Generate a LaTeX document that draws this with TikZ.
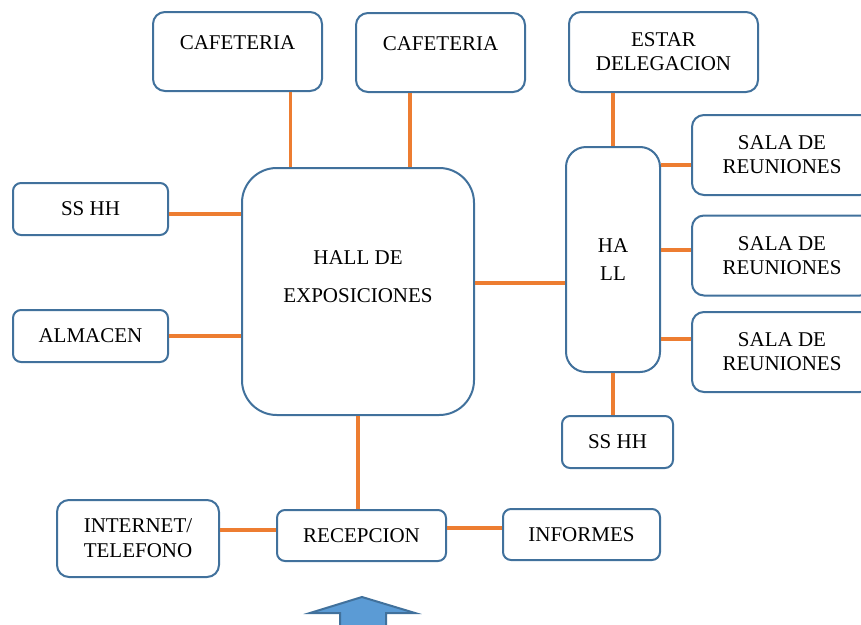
\documentclass[tikz,border=0pt]{standalone}
\usepackage{fontspec}
\setmainfont{Liberation Serif}
\usepackage{xcolor}
\usetikzlibrary{calc, positioning}
\definecolor{roomedge}{HTML}{41719C}
\definecolor{linkorange}{HTML}{ED7D31}
\definecolor{arrowblue}{HTML}{5B9BD5}

\begin{document}
\begin{tikzpicture}[
    x=0.75pt, y=-0.75pt,
    room/.style={rectangle, draw=roomedge, fill=white, line width=1.5pt, rounded corners=9pt, align=center, inner sep=0pt, font=\fontsize{15.75pt}{18pt}\selectfont},
    link/.style={draw=linkorange, line width=2.4pt},
    entry/.style={draw=roomedge, fill=arrowblue, line width=1.5pt}
]
    \useasboundingbox (0,0) rectangle (861,625);

    % Top row: cafeterias and estar
    \node (cafe1) at (237.5, 51.5) [room, minimum width=126.75pt, text height=27.75pt, text depth=31.5pt] {CAFETERIA};
    \node (cafe2) at (440.5, 52.5) [room, minimum width=126.75pt, text height=27.75pt, text depth=31.5pt] {CAFETERIA};
    \node (estar) at (663.5, 52) [room, minimum width=141.75pt, minimum height=60pt] {ESTAR\\DELEGACION};

    % Left column
    \node (sshhL) at (90.5, 209) [room, rounded corners=6pt, minimum width=116.25pt, minimum height=39pt] {SS HH};
    \node (almacen) at (90.5, 336) [room, rounded corners=6pt, minimum width=116.25pt, minimum height=39pt] {ALMACEN};

    % Centre: hall de exposiciones and hall
    \node (expo) at (358, 291.5) [room, rounded corners=26pt, minimum width=174pt, text height=100.5pt, text depth=84.75pt] {HALL DE\\[10.5pt]EXPOSICIONES};
    \node (hall) at (613, 259.5) [room, rounded corners=15pt, minimum width=70.5pt, minimum height=168.75pt] {HA\\[3pt]LL};

    % Right column: salas de reuniones
    \node (sala1) at (782, 155) [room, minimum width=135pt, minimum height=60pt] {SALA DE\\REUNIONES};
    \node (sala2) at (782, 255.5) [room, minimum width=135pt, minimum height=60pt] {SALA DE\\REUNIONES};
    \node (sala3) at (782, 352) [room, minimum width=135pt, minimum height=60pt] {SALA DE\\REUNIONES};
    \node (sshhR) at (617.5, 442) [room, rounded corners=6pt, minimum width=83.25pt, minimum height=39pt] {SS HH};

    % Bottom row
    \node (internet) at (138, 538.5) [room, minimum width=121.5pt, minimum height=57.75pt] {INTERNET/\\[0.75pt]TELEFONO};
    \node (recep) at (361.5, 535.5) [room, rounded corners=6pt, minimum width=126.75pt, minimum height=38.25pt] {RECEPCION};
    \node (informes) at (581.5, 534.5) [room, rounded corners=6pt, minimum width=117.75pt, minimum height=38.25pt] {INFORMES};

    % Connectors
    \draw [link] ([xshift=40pt]cafe1.south) -- ([xshift=40pt]cafe1.south |- expo.north);
    \draw [link] ([xshift=-22.9pt]cafe2.south) -- ([xshift=-22.9pt]cafe2.south |- expo.north);
    \draw [link] ([yshift=-3.75pt]sshhL.east) -- ([yshift=-3.75pt]sshhL.east -| expo.west);
    \draw [link] (almacen.east) -- (almacen.east -| expo.west);
    \draw [link] ([yshift=6.4pt]expo.east) -- ([yshift=6.4pt]expo.east -| hall.west);
    \draw [link] (hall.north) -- (hall.north |- estar.south);
    \draw [link] ([yshift=-7.5pt]sala1.west) -- ([yshift=-7.5pt]sala1.west -| hall.east);
    \draw [link] ([yshift=4.1pt]sala2.west) -- ([yshift=4.1pt]sala2.west -| hall.east);
    \draw [link] ([yshift=9.75pt]sala3.west) -- ([yshift=9.75pt]sala3.west -| hall.east);
    \draw [link] (hall.south) -- (hall.south |- sshhR.north);
    \draw [link] (expo.south) -- (expo.south |- recep.north);
    \draw [link] ([yshift=4.1pt]recep.west) -- ([yshift=4.1pt]recep.west -| internet.east);
    \draw [link] ([yshift=5.6pt]recep.east) -- ([yshift=5.6pt]recep.east -| informes.west);

    % Entrance arrow
    \draw [entry] (362, 597) -- (415, 613) -- (386, 613) -- (386, 630) -- (340, 630) -- (340, 613) -- (310, 613) -- cycle;

\end{tikzpicture}
\end{document}
